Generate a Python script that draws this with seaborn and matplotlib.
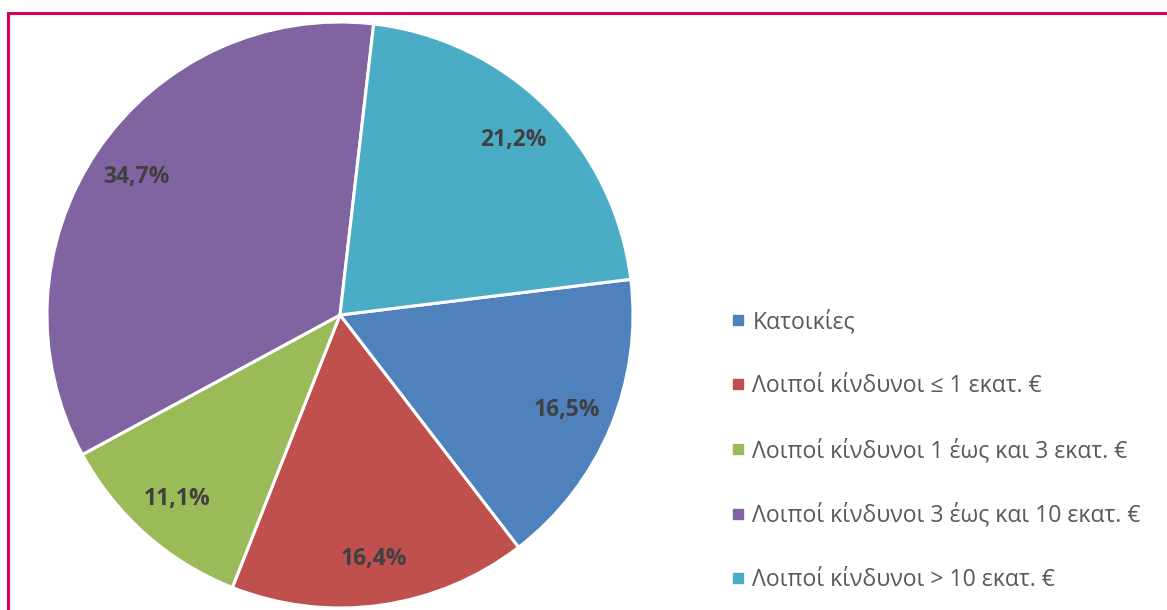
import matplotlib
matplotlib.use("Agg")
import matplotlib.pyplot as plt
import seaborn as sns
from matplotlib.lines import Line2D
from matplotlib.patches import Rectangle

categories = ["Κατοικίες",
              "Λοιποί κίνδυνοι ≤ 1 εκατ. €",
              "Λοιποί κίνδυνοι 1 έως και 3 εκατ. €",
              "Λοιποί κίνδυνοι 3 έως και 10 εκατ. €",
              "Λοιποί κίνδυνοι > 10 εκατ. €"]
shares = [16.5, 16.4, 11.1, 34.7, 21.2]
colors = ["#4F81BD", "#C0504D", "#9BBB59", "#8064A2", "#4BACC6"]

sns.set_theme(style="white")
plt.rcParams['font.family'] = ['Open Sans', 'DejaVu Sans']

W, H = 1167, 610
fig = plt.figure(figsize=(W/100, H/100), dpi=100)
fig.patch.set_facecolor("white")

# border
fig.add_artist(Rectangle((7.5/W, -0.05), 1.2, (H - 12.5)/H + 0.05, transform=fig.transFigure,
                         fill=False, edgecolor="#D9005B", linewidth=2.2))

cx, cy, r = 340, 315, 293
ax = fig.add_axes([(cx - r)/W, (H - cy - r)/H, 2*r/W, 2*r/H])
palette = sns.color_palette(colors)

def fmt(p):
    return f"{p:.1f}%".replace(".", ",")

wedges, texts, autotexts = ax.pie(
    shares, colors=palette, startangle=7, counterclock=False,
    autopct=fmt, pctdistance=0.84, radius=1,
    wedgeprops=dict(edgecolor="white", linewidth=2.2),
    textprops=dict(color="#404040", fontsize=16.5, fontweight="bold"))
ax.set_xlim(-1, 1)
ax.set_ylim(-1, 1)
ax.set_aspect("equal")
ax.axis("off")

handles = [Line2D([], [], marker="s", linestyle="none", markersize=7,
                  markerfacecolor=c, markeredgecolor=c) for c in colors]
leg = fig.legend(handles, categories, loc="upper left",
                 bbox_to_anchor=(720/W, 1 - 298/H), frameon=False,
                 fontsize=16.6, labelcolor="#595959", handlelength=0.55,
                 handletextpad=0.35, labelspacing=1.74, borderpad=0)

fig.savefig("out.png", dpi=100)
